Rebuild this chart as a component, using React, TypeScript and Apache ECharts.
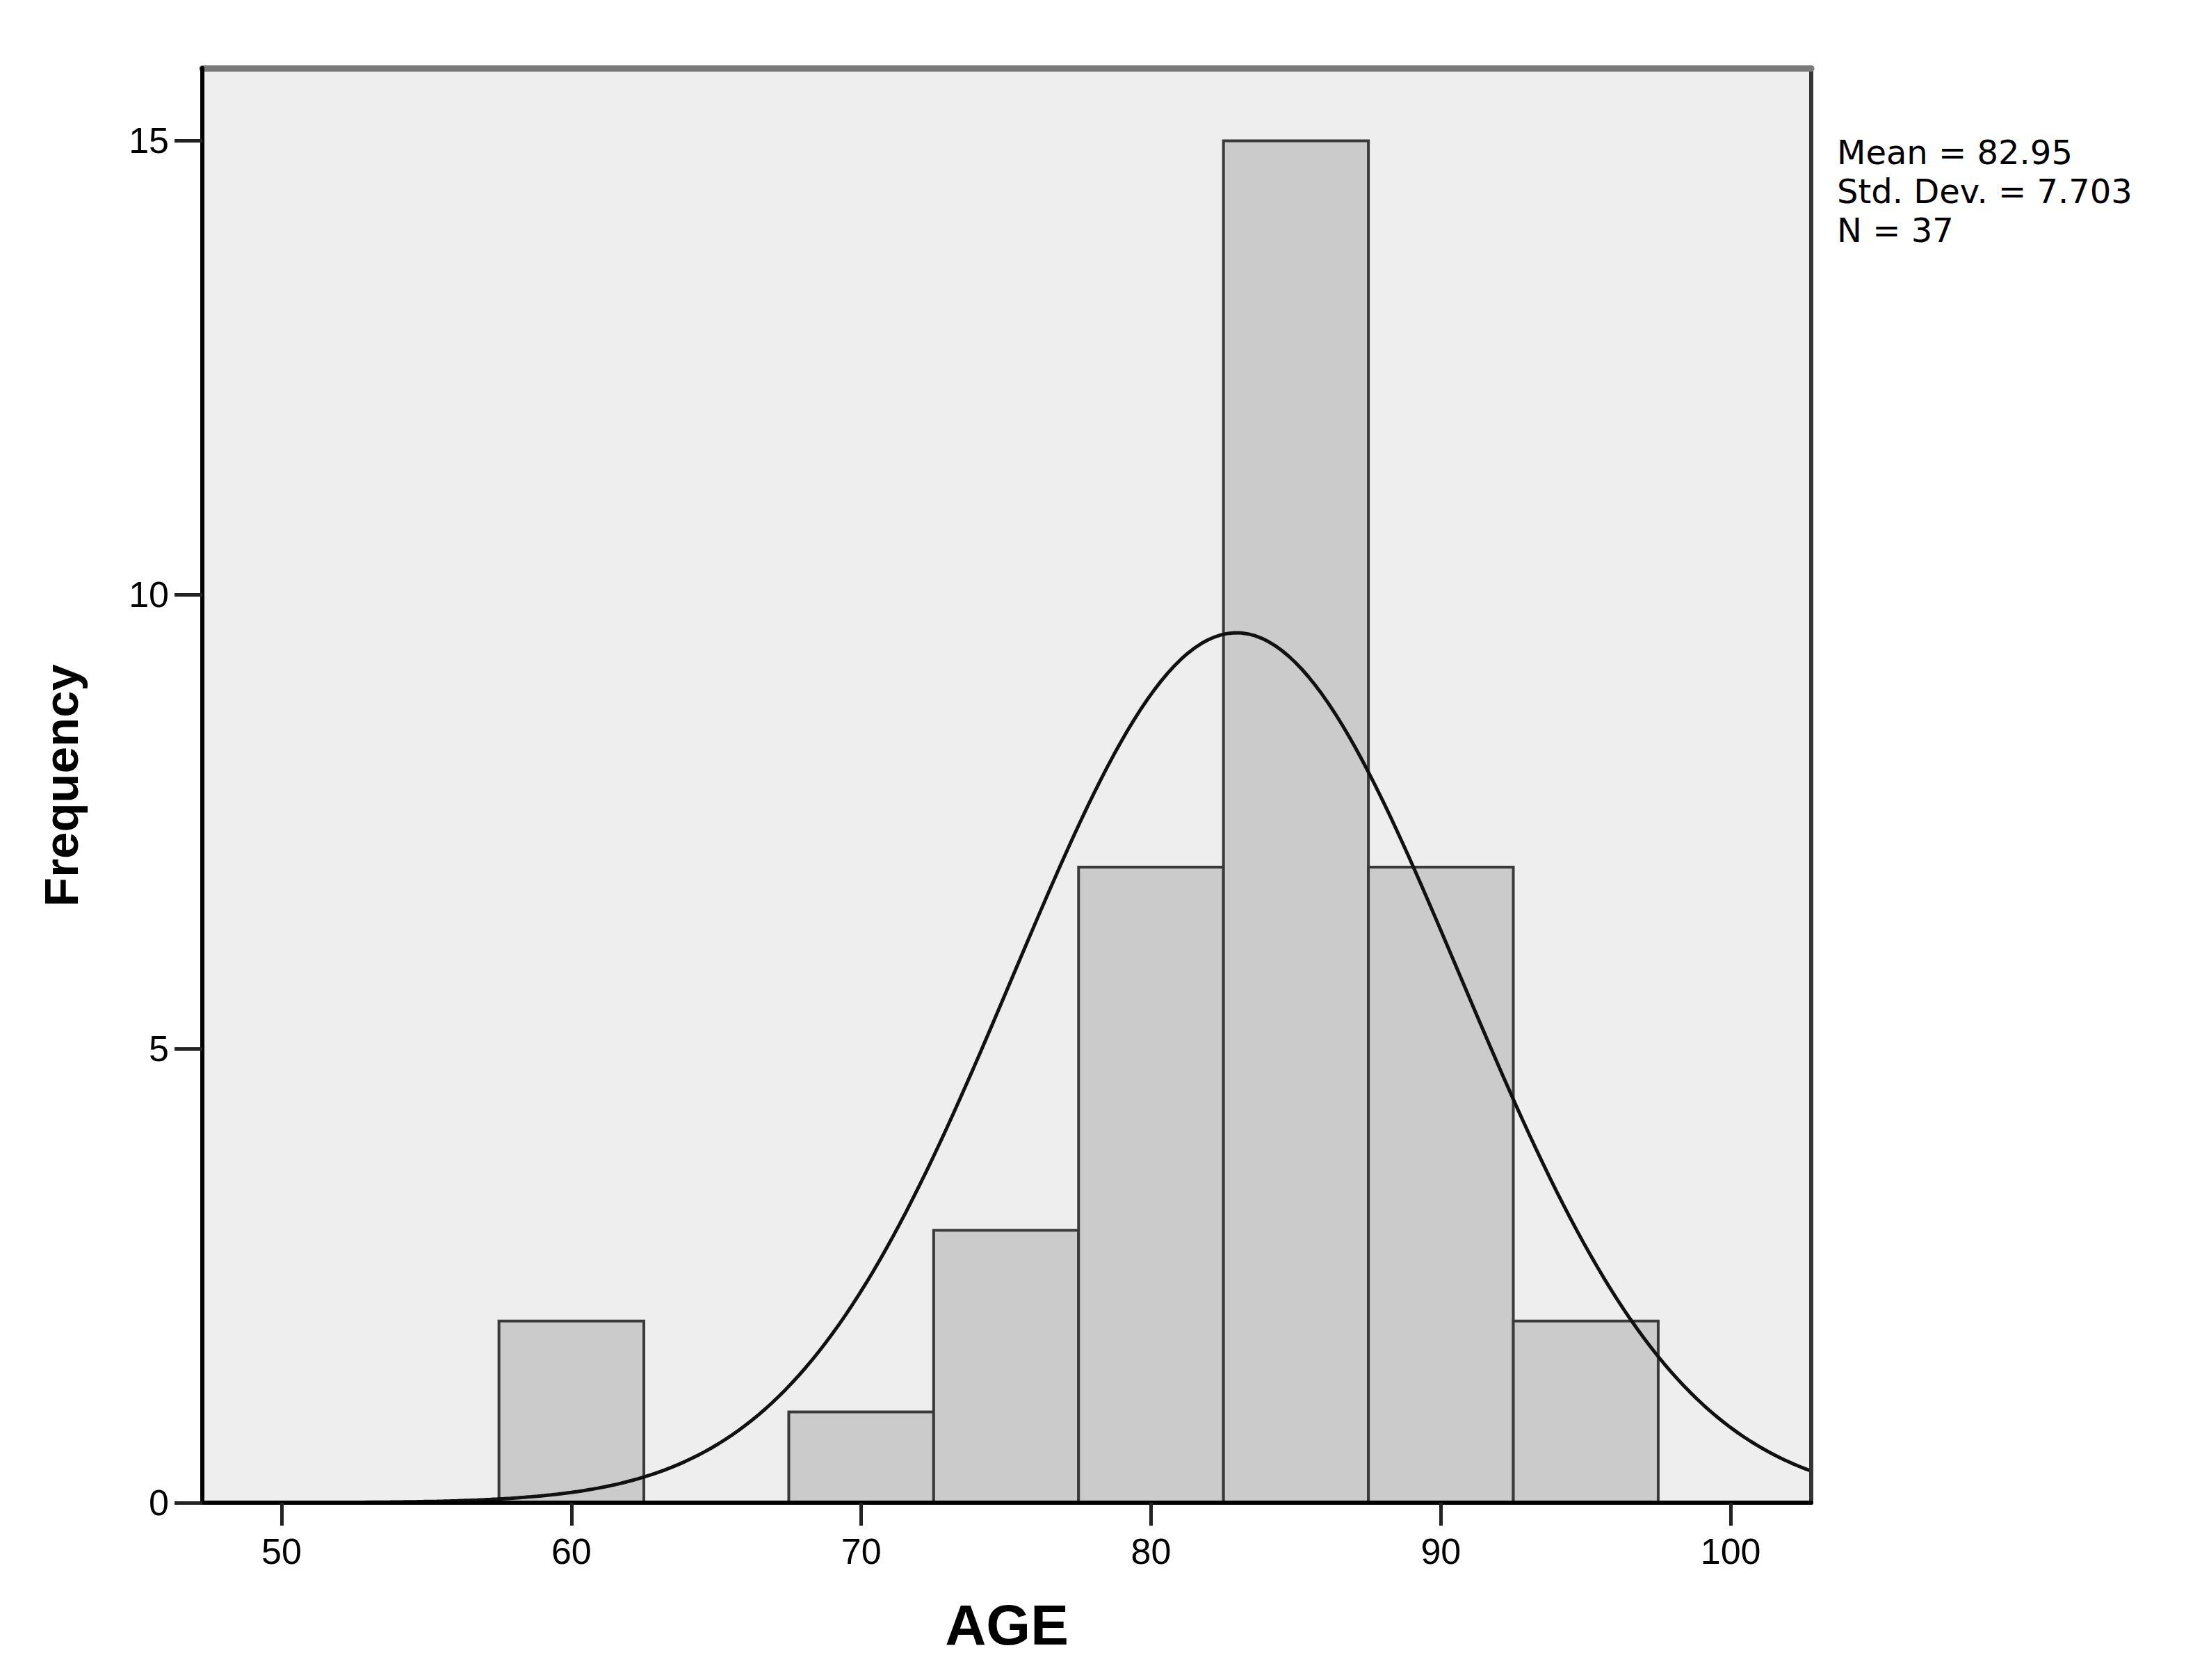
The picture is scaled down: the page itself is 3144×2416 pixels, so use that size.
import React, { useEffect, useRef } from "react";
import * as echarts from "echarts";

// Histogram bins (AGE)
const BIN_STARTS = [57.5, 67.5, 72.5, 77.5, 82.5, 87.5, 92.5];
const BIN_ENDS = [62.5, 72.5, 77.5, 82.5, 87.5, 92.5, 97.5];
const FREQUENCIES = [2, 1, 3, 7, 15, 7, 2];

// Fitted normal curve parameters (as printed on the chart)
const MEAN = 82.95;
const STD_DEV = 7.703;
const N = 37;
const BIN_WIDTH = 5;

const X_TICKS = [50, 60, 70, 80, 90, 100];
const Y_TICKS = [0, 5, 10, 15];
const X_MIN = 47.265;
const X_MAX = 102.78;
const Y_MAX = 15.8;

const STATS_LINES = ["Mean = 82.95", "Std. Dev. = 7.703", "N = 37"];

const FONT = '"Liberation Sans", Arial, Helvetica, sans-serif';
const STATS_FONT = '"DejaVu Sans", "Liberation Sans", Arial, sans-serif';

function normalCurve(): number[][] {
  const pts: number[][] = [];
  const steps = 240;
  for (let i = 0; i <= steps; i++) {
    const x = X_MIN + ((X_MAX - X_MIN) * i) / steps;
    const z = (x - MEAN) / STD_DEV;
    const y = (N * BIN_WIDTH * Math.exp(-0.5 * z * z)) / (STD_DEV * Math.sqrt(2 * Math.PI));
    pts.push([x, y]);
  }
  return pts;
}

export default function App() {
  const ref = useRef<HTMLDivElement>(null);
  useEffect(() => {
    document.body.style.margin = "0";
    if (!ref.current) return;
    const chart = echarts.init(ref.current, null, { renderer: "svg" });
    const bins = BIN_STARTS.map((s, i) => [s, BIN_ENDS[i], FREQUENCIES[i]]);
    chart.setOption({
      animation: false,
      backgroundColor: "#ffffff",
      grid: {
        left: 291,
        right: 539,
        top: 98,
        bottom: 255,
        show: true,
        backgroundColor: "#eeeeee",
        borderWidth: 0,
      },
      xAxis: [
        {
          type: "value",
          min: X_MIN,
          max: X_MAX,
          name: "AGE",
          nameLocation: "middle",
          nameGap: 134,
          nameTextStyle: { fontFamily: FONT, fontSize: 82, fontWeight: "bold", color: "#000" },
          axisLine: { show: true, onZero: false, lineStyle: { color: "#000", width: 6 } },
          axisTick: { show: true, length: 33, customValues: X_TICKS, lineStyle: { color: "#222", width: 5 } },
          axisLabel: { customValues: X_TICKS, margin: 44, fontFamily: FONT, fontSize: 52, color: "#000" },
          splitLine: { show: false },
          z: 5,
        },
        {
          type: "value",
          position: "top",
          min: X_MIN,
          max: X_MAX,
          axisLine: { show: true, onZero: false, lineStyle: { color: "#7a7a7a", width: 9 } },
          axisTick: { show: false },
          axisLabel: { show: false },
          splitLine: { show: false },
          z: 4,
        },
      ],
      yAxis: [
        {
          type: "value",
          min: 0,
          max: Y_MAX,
          name: "Frequency",
          nameLocation: "middle",
          nameGap: 168,
          nameRotate: 90,
          nameTextStyle: { fontFamily: FONT, fontSize: 69, fontWeight: "bold", color: "#000" },
          axisLine: { show: true, onZero: false, lineStyle: { color: "#000", width: 6 } },
          axisTick: { show: true, length: 40, customValues: Y_TICKS, lineStyle: { color: "#222", width: 5 } },
          axisLabel: { customValues: Y_TICKS, margin: 48, fontFamily: FONT, fontSize: 52, color: "#000" },
          splitLine: { show: false },
          z: 6,
        },
        {
          type: "value",
          position: "right",
          min: 0,
          max: Y_MAX,
          axisLine: { show: true, onZero: false, lineStyle: { color: "#363636", width: 6 } },
          axisTick: { show: false },
          axisLabel: { show: false },
          splitLine: { show: false },
          z: 4,
        },
      ],
      graphic: STATS_LINES.map((line, i) => ({
        type: "text",
        x: 2642,
        y: 219 + i * 56,
        style: {
          text: line,
          font: `48px ${STATS_FONT}`,
          fill: "#000",
          verticalAlign: "middle",
          align: "left",
        },
      })),
      series: [
        {
          type: "custom",
          data: bins,
          encode: { x: [0, 1], y: 2 },
          z: 2,
          renderItem: (params: any, api: any) => {
            const s = api.value(0);
            const e = api.value(1);
            const c = api.value(2);
            const p0 = api.coord([s, c]);
            const p1 = api.coord([e, 0]);
            return {
              type: "rect",
              shape: { x: p0[0], y: p0[1], width: p1[0] - p0[0], height: p1[1] - p0[1] },
              style: { fill: "#cbcbcb", stroke: "#3a3a3a", lineWidth: 4 },
            };
          },
        },
        {
          type: "line",
          data: normalCurve(),
          showSymbol: false,
          symbol: "none",
          z: 3,
          clip: true,
          lineStyle: { color: "#111", width: 5 },
        },
      ],
    });
    return () => chart.dispose();
  }, []);
  return <div ref={ref} style={{ width: 3144, height: 2416 }} />;
}
